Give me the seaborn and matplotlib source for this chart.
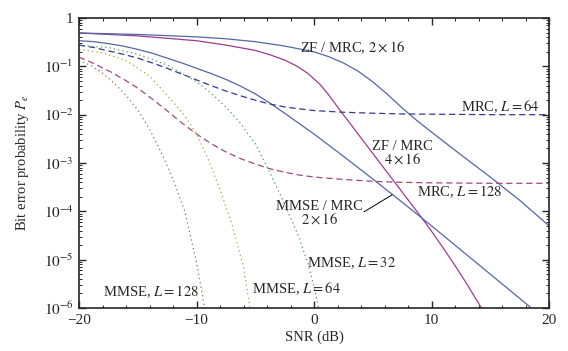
import matplotlib
matplotlib.use("Agg")
import matplotlib.pyplot as plt
import matplotlib.ticker as mticker
import numpy as np
import pandas as pd
import seaborn as sns

# values are log10 of the bit error probability
zf_2x16_snr = [-20, -15, -10, -7.5, -5, -2.5, 0, 1.25, 2.5, 3.75, 5, 6.25, 7.5, 8.75, 10, 12.5, 15, 17.5, 20]
zf_2x16_log = [-0.31, -0.34, -0.39, -0.43, -0.49, -0.58, -0.70, -0.8, -0.93, -1.1, -1.32, -1.58, -1.86,
               -2.12, -2.36, -2.83, -3.29, -3.77, -4.3]

zf_4x16_snr = [-20, -15, -10, -7.5, -5, -3.75, -2.5, -1.5, -0.5, 0.5, 1.25, 2, 3, 4, 5, 6, 7, 8, 9, 10,
               11, 12, 13, 14, 14.25]
zf_4x16_log = [-0.31, -0.37, -0.47, -0.56, -0.67, -0.76, -0.87, -0.99, -1.15, -1.37, -1.59, -1.84, -2.16,
               -2.48, -2.8, -3.12, -3.44, -3.76, -4.08, -4.41, -4.76, -5.12, -5.5, -5.9, -6.0]

mmse_2x16_snr = [-20, -18.75, -17.5, -16.25, -15, -13.75, -12.5, -11.25, -10, -8.75, -7.5, -6.25, -5,
                 -3.75, -2.5, 0, 2.5, 5, 7.5, 10, 12.5, 15, 17.5, 18.4]
mmse_2x16_log = [-0.47, -0.49, -0.53, -0.58, -0.65, -0.73, -0.83, -0.93, -1.04, -1.15, -1.27, -1.41,
                 -1.57, -1.76, -1.97, -2.4, -2.86, -3.33, -3.81, -4.3, -4.8, -5.3, -5.8, -5.98]

mrc64_snr = [-20, -18.75, -17.5, -16.25, -15, -13.75, -12.5, -11.25, -10, -8.75, -7.5, -6.25, -5, -3.75,
             -2.5, -1.25, 0, 2.5, 5, 7.5, 10, 15, 20]
mrc64_log = [-0.56, -0.61, -0.68, -0.75, -0.83, -0.93, -1.04, -1.16, -1.28, -1.4, -1.51, -1.61, -1.7,
             -1.78, -1.84, -1.88, -1.915, -1.95, -1.97, -1.985, -1.99, -2.0, -2.0]

mrc128_snr = [-20, -18.75, -17.5, -16.25, -15, -13.75, -12.5, -11.25, -10, -8.75, -7.5, -6.25, -5, -3.75,
              -2.5, -1.25, 0, 2.5, 5, 7.5, 10, 15, 20]
mrc128_log = [-0.81, -0.94, -1.09, -1.26, -1.45, -1.68, -1.92, -2.17, -2.4, -2.6, -2.77, -2.91, -3.02,
              -3.12, -3.19, -3.25, -3.29, -3.34, -3.38, -3.4, -3.41, -3.42, -3.42]

mmse32_snr = [-20, -17.5, -15, -12.5, -10, -8.75, -7.5, -6.25, -5, -3.75, -2.5, -1.25, -0.5, 0, 0.4]
mmse32_log = [-0.57, -0.61, -0.75, -0.97, -1.32, -1.56, -1.84, -2.18, -2.6, -3.2, -3.85, -4.55, -5.1,
              -5.55, -6.0]

mmse64_snr = [-20, -18, -16, -14, -12.5, -11, -10, -9, -8, -7, -6, -5.45]
mmse64_log = [-0.65, -0.72, -0.88, -1.2, -1.6, -2.02, -2.4, -2.92, -3.55, -4.25, -5.15, -6.0]

mmse128_snr = [-20, -19, -18, -17, -16, -15, -14, -13, -12, -11, -10, -9.3]
mmse128_log = [-0.88, -0.98, -1.14, -1.35, -1.6, -1.9, -2.3, -2.78, -3.33, -4.0, -5.05, -6.0]

x_ticks = [-20, -10, 0, 10, 20]
x_tick_labels = ["\u221220", "\u221210", "0", "10", "20"]
y_ticks = [1e-6, 1e-5, 1e-4, 1e-3, 1e-2, 1e-1, 1]
y_tick_labels = ["$10^{-6}$", "$10^{-5}$", "$10^{-4}$", "$10^{-3}$", "$10^{-2}$", "$10^{-1}$", "1"]

curves = [
    (zf_4x16_snr, zf_4x16_log, "#9a3d8f", "-"),
    (zf_2x16_snr, zf_2x16_log, "#5566a3", "-"),
    (mmse_2x16_snr, mmse_2x16_log, "#5566a3", "-"),
    (mrc64_snr, mrc64_log, "#35398f", (0, (5, 3))),
    (mrc128_snr, mrc128_log, "#a04a7e", (0, (5, 3))),
    (mmse32_snr, mmse32_log, "#4f9a55", (0, (1, 2.5))),
    (mmse64_snr, mmse64_log, "#b39a4c", (0, (1, 2.5))),
    (mmse128_snr, mmse128_log, "#9c6f47", (0, (1, 2.5))),
]


def main() -> None:
    sns.set_theme(style="ticks")
    plt.rcParams["font.family"] = ["Liberation Serif", "DejaVu Serif"]
    plt.rcParams["mathtext.fontset"] = "stix"

    fig = plt.figure(figsize=(5.68, 3.51), dpi=100)
    ax = fig.add_axes([79 / 568, 1 - 308 / 351, 470 / 568, 290 / 351])

    for snr, logp, color, ls in curves:
        df = pd.DataFrame({"snr": snr, "pe": np.power(10.0, logp)})
        sns.lineplot(data=df, x="snr", y="pe", ax=ax, color=color, linestyle=ls,
                     linewidth=0.9, estimator=None, sort=False)

    ax.set_yscale("log")
    ax.set_xlim(-20, 20)
    ax.set_ylim(1e-6, 1)
    ax.set_xticks(x_ticks)
    ax.set_xticklabels(x_tick_labels)
    ax.xaxis.set_minor_locator(mticker.MultipleLocator(2))
    ax.set_yticks(y_ticks)
    ax.set_yticklabels(y_tick_labels)
    ax.yaxis.set_minor_locator(mticker.LogLocator(base=10, subs=np.arange(2, 10)))
    ax.yaxis.set_minor_formatter(mticker.NullFormatter())
    ax.tick_params(which="both", direction="in", top=True, right=True, labelsize=11, pad=4)
    ax.tick_params(which="major", length=5, width=1)
    ax.tick_params(which="minor", length=2.5, width=0.7)
    for s in ax.spines.values():
        s.set_linewidth(1.2)

    ax.set_xlabel("SNR (dB)", fontsize=10.5, labelpad=3)
    ax.set_ylabel("Bit error probability $P_e$", fontsize=10.5, labelpad=9)

    fs = 10.5
    ax.text(3.3, 10 ** -0.62, "ZF / MRC, $2\\times16$", fontsize=fs, ha="center", va="center")
    ax.text(19.2, 10 ** -1.84, "MRC, $L=64$", fontsize=fs, ha="right", va="center")
    ax.text(7.5, 10 ** -2.79, "ZF / MRC\n$4\\times16$", fontsize=fs, ha="center", va="center",
            linespacing=0.9)
    ax.text(12.4, 10 ** -3.6, "MRC, $L=128$", fontsize=fs, ha="center", va="center")
    ax.text(0.5, 10 ** -4.05, "MMSE / MRC\n$2\\times16$", fontsize=fs, ha="center", va="center",
            linespacing=0.9)
    ax.plot([4.26, 6.64], [10 ** -4.01, 10 ** -3.66], color="black", linewidth=0.7)
    ax.text(3.2, 10 ** -5.07, "MMSE, $L=32$", fontsize=fs, ha="center", va="center")
    ax.text(-1.5, 10 ** -5.6, "MMSE, $L=64$", fontsize=fs, ha="center", va="center")
    ax.text(-13.9, 10 ** -5.67, "MMSE, $L=128$", fontsize=fs, ha="center", va="center")

    fig.savefig("out.png", dpi=100)
    plt.close(fig)


if __name__ == "__main__":
    main()
